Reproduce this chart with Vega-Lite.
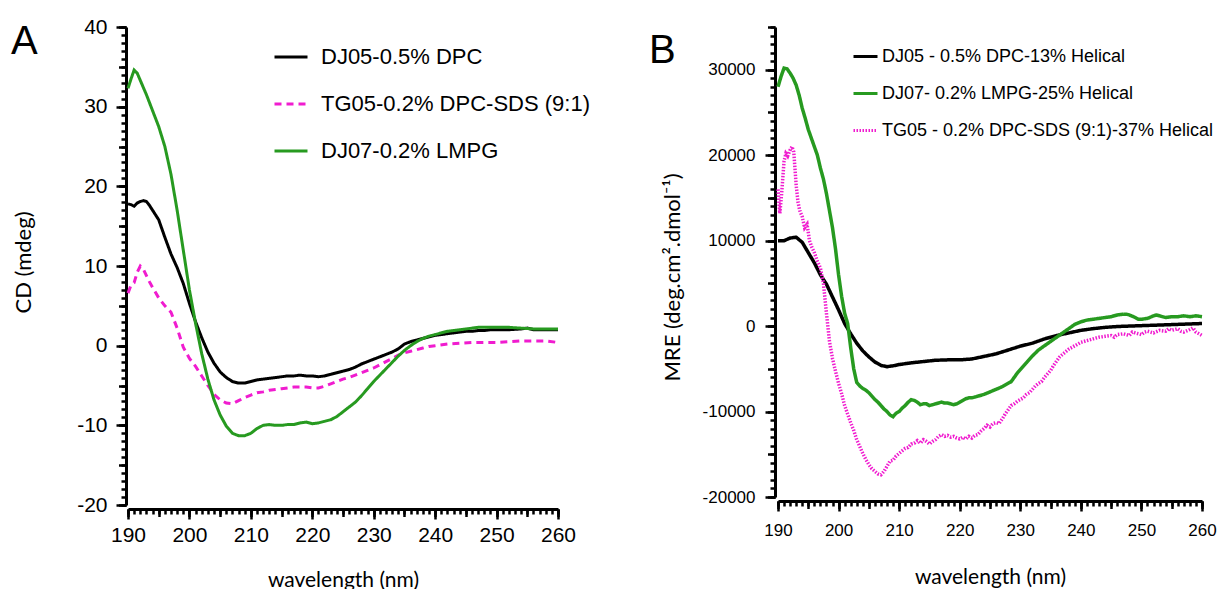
{
  "$schema": "https://vega.github.io/schema/vega-lite/v6.json",
  "background": "white",
  "padding": {"left": 11, "top": 16, "right": 0, "bottom": 0},
  "spacing": 220,
  "bounds": "flush",
  "config": {
    "view": {"stroke": null},
    "font": "Liberation Sans",
    "axis": {"grid": false, "domainColor": "black", "domainWidth": 3, "tickColor": "black", "tickWidth": 2.5, "labelColor": "black", "titleColor": "black", "titleFont": "Lato", "titleFontWeight": "normal", "labelFont": "Liberation Sans", "labelFlush": false, "labelOverlap": false},
    "legend": {"padding": 0, "titlePadding": 0}
  },
  "resolve": {"scale": {"color": "independent", "strokeDash": "independent"}, "legend": {"color": "independent", "strokeDash": "independent"}},
  "datasets": {
    "A": [
      {"s":"DJ05-0.5% DPC","x":190,"y":17.8},{"s":"DJ05-0.5% DPC","x":190.5,"y":17.7},{"s":"DJ05-0.5% DPC","x":191,"y":17.5},{"s":"DJ05-0.5% DPC","x":191.5,"y":17.9},{"s":"DJ05-0.5% DPC","x":192,"y":18.1},{"s":"DJ05-0.5% DPC","x":192.5,"y":18.2},{"s":"DJ05-0.5% DPC","x":193,"y":18.1},{"s":"DJ05-0.5% DPC","x":193.5,"y":17.6},{"s":"DJ05-0.5% DPC","x":194,"y":17.0},{"s":"DJ05-0.5% DPC","x":195,"y":15.8},{"s":"DJ05-0.5% DPC","x":196,"y":13.6},{"s":"DJ05-0.5% DPC","x":197,"y":11.5},{"s":"DJ05-0.5% DPC","x":198,"y":9.8},{"s":"DJ05-0.5% DPC","x":199,"y":7.8},{"s":"DJ05-0.5% DPC","x":200,"y":5.3},{"s":"DJ05-0.5% DPC","x":201,"y":3.0},{"s":"DJ05-0.5% DPC","x":202,"y":1.0},{"s":"DJ05-0.5% DPC","x":203,"y":-0.8},{"s":"DJ05-0.5% DPC","x":204,"y":-2.2},{"s":"DJ05-0.5% DPC","x":205,"y":-3.3},{"s":"DJ05-0.5% DPC","x":206,"y":-4.0},{"s":"DJ05-0.5% DPC","x":207,"y":-4.5},{"s":"DJ05-0.5% DPC","x":208,"y":-4.7},{"s":"DJ05-0.5% DPC","x":209,"y":-4.7},{"s":"DJ05-0.5% DPC","x":210,"y":-4.5},{"s":"DJ05-0.5% DPC","x":211,"y":-4.3},{"s":"DJ05-0.5% DPC","x":212,"y":-4.2},{"s":"DJ05-0.5% DPC","x":213,"y":-4.1},{"s":"DJ05-0.5% DPC","x":214,"y":-4.0},{"s":"DJ05-0.5% DPC","x":215,"y":-3.9},{"s":"DJ05-0.5% DPC","x":216,"y":-3.8},{"s":"DJ05-0.5% DPC","x":217,"y":-3.8},{"s":"DJ05-0.5% DPC","x":218,"y":-3.7},{"s":"DJ05-0.5% DPC","x":219,"y":-3.8},{"s":"DJ05-0.5% DPC","x":220,"y":-3.8},{"s":"DJ05-0.5% DPC","x":221,"y":-3.9},{"s":"DJ05-0.5% DPC","x":222,"y":-3.8},{"s":"DJ05-0.5% DPC","x":223,"y":-3.6},{"s":"DJ05-0.5% DPC","x":224,"y":-3.4},{"s":"DJ05-0.5% DPC","x":225,"y":-3.2},{"s":"DJ05-0.5% DPC","x":226,"y":-3.0},{"s":"DJ05-0.5% DPC","x":227,"y":-2.7},{"s":"DJ05-0.5% DPC","x":228,"y":-2.3},{"s":"DJ05-0.5% DPC","x":229,"y":-2.0},{"s":"DJ05-0.5% DPC","x":230,"y":-1.7},{"s":"DJ05-0.5% DPC","x":231,"y":-1.4},{"s":"DJ05-0.5% DPC","x":232,"y":-1.1},{"s":"DJ05-0.5% DPC","x":233,"y":-0.8},{"s":"DJ05-0.5% DPC","x":234,"y":-0.4},{"s":"DJ05-0.5% DPC","x":235,"y":0.2},{"s":"DJ05-0.5% DPC","x":236,"y":0.5},{"s":"DJ05-0.5% DPC","x":237,"y":0.7},{"s":"DJ05-0.5% DPC","x":238,"y":0.9},{"s":"DJ05-0.5% DPC","x":239,"y":1.1},{"s":"DJ05-0.5% DPC","x":240,"y":1.3},{"s":"DJ05-0.5% DPC","x":241,"y":1.4},{"s":"DJ05-0.5% DPC","x":242,"y":1.5},{"s":"DJ05-0.5% DPC","x":243,"y":1.6},{"s":"DJ05-0.5% DPC","x":244,"y":1.7},{"s":"DJ05-0.5% DPC","x":245,"y":1.8},{"s":"DJ05-0.5% DPC","x":246,"y":1.8},{"s":"DJ05-0.5% DPC","x":247,"y":1.9},{"s":"DJ05-0.5% DPC","x":248,"y":1.9},{"s":"DJ05-0.5% DPC","x":249,"y":2.0},{"s":"DJ05-0.5% DPC","x":250,"y":2.0},{"s":"DJ05-0.5% DPC","x":252,"y":2.0},{"s":"DJ05-0.5% DPC","x":254,"y":2.1},{"s":"DJ05-0.5% DPC","x":255,"y":2.2},{"s":"DJ05-0.5% DPC","x":256,"y":2.0},{"s":"DJ05-0.5% DPC","x":258,"y":2.0},{"s":"DJ05-0.5% DPC","x":260,"y":2.0},
      {"s":"DJ07-0.2% LMPG","x":190,"y":32.3},{"s":"DJ07-0.2% LMPG","x":190.5,"y":33.5},{"s":"DJ07-0.2% LMPG","x":191,"y":34.6},{"s":"DJ07-0.2% LMPG","x":191.5,"y":34.2},{"s":"DJ07-0.2% LMPG","x":192,"y":33.3},{"s":"DJ07-0.2% LMPG","x":193,"y":31.5},{"s":"DJ07-0.2% LMPG","x":194,"y":29.5},{"s":"DJ07-0.2% LMPG","x":195,"y":27.5},{"s":"DJ07-0.2% LMPG","x":196,"y":25.0},{"s":"DJ07-0.2% LMPG","x":197,"y":21.5},{"s":"DJ07-0.2% LMPG","x":198,"y":17.0},{"s":"DJ07-0.2% LMPG","x":199,"y":12.0},{"s":"DJ07-0.2% LMPG","x":200,"y":7.0},{"s":"DJ07-0.2% LMPG","x":201,"y":2.8},{"s":"DJ07-0.2% LMPG","x":202,"y":-1.0},{"s":"DJ07-0.2% LMPG","x":203,"y":-4.2},{"s":"DJ07-0.2% LMPG","x":204,"y":-6.8},{"s":"DJ07-0.2% LMPG","x":205,"y":-8.7},{"s":"DJ07-0.2% LMPG","x":206,"y":-10.1},{"s":"DJ07-0.2% LMPG","x":207,"y":-11.0},{"s":"DJ07-0.2% LMPG","x":208,"y":-11.3},{"s":"DJ07-0.2% LMPG","x":209,"y":-11.3},{"s":"DJ07-0.2% LMPG","x":210,"y":-11.0},{"s":"DJ07-0.2% LMPG","x":211,"y":-10.4},{"s":"DJ07-0.2% LMPG","x":212,"y":-10.0},{"s":"DJ07-0.2% LMPG","x":213,"y":-9.9},{"s":"DJ07-0.2% LMPG","x":214,"y":-10.0},{"s":"DJ07-0.2% LMPG","x":215,"y":-10.0},{"s":"DJ07-0.2% LMPG","x":216,"y":-9.9},{"s":"DJ07-0.2% LMPG","x":217,"y":-9.9},{"s":"DJ07-0.2% LMPG","x":218,"y":-9.7},{"s":"DJ07-0.2% LMPG","x":219,"y":-9.6},{"s":"DJ07-0.2% LMPG","x":220,"y":-9.8},{"s":"DJ07-0.2% LMPG","x":221,"y":-9.7},{"s":"DJ07-0.2% LMPG","x":222,"y":-9.5},{"s":"DJ07-0.2% LMPG","x":223,"y":-9.3},{"s":"DJ07-0.2% LMPG","x":224,"y":-8.9},{"s":"DJ07-0.2% LMPG","x":225,"y":-8.3},{"s":"DJ07-0.2% LMPG","x":226,"y":-7.7},{"s":"DJ07-0.2% LMPG","x":227,"y":-7.1},{"s":"DJ07-0.2% LMPG","x":228,"y":-6.3},{"s":"DJ07-0.2% LMPG","x":229,"y":-5.4},{"s":"DJ07-0.2% LMPG","x":230,"y":-4.5},{"s":"DJ07-0.2% LMPG","x":231,"y":-3.7},{"s":"DJ07-0.2% LMPG","x":232,"y":-2.9},{"s":"DJ07-0.2% LMPG","x":233,"y":-2.1},{"s":"DJ07-0.2% LMPG","x":234,"y":-1.3},{"s":"DJ07-0.2% LMPG","x":235,"y":-0.6},{"s":"DJ07-0.2% LMPG","x":236,"y":0.0},{"s":"DJ07-0.2% LMPG","x":237,"y":0.5},{"s":"DJ07-0.2% LMPG","x":238,"y":0.9},{"s":"DJ07-0.2% LMPG","x":239,"y":1.2},{"s":"DJ07-0.2% LMPG","x":240,"y":1.4},{"s":"DJ07-0.2% LMPG","x":241,"y":1.6},{"s":"DJ07-0.2% LMPG","x":242,"y":1.8},{"s":"DJ07-0.2% LMPG","x":243,"y":1.9},{"s":"DJ07-0.2% LMPG","x":244,"y":2.0},{"s":"DJ07-0.2% LMPG","x":245,"y":2.1},{"s":"DJ07-0.2% LMPG","x":246,"y":2.2},{"s":"DJ07-0.2% LMPG","x":247,"y":2.3},{"s":"DJ07-0.2% LMPG","x":248,"y":2.3},{"s":"DJ07-0.2% LMPG","x":250,"y":2.3},{"s":"DJ07-0.2% LMPG","x":252,"y":2.3},{"s":"DJ07-0.2% LMPG","x":254,"y":2.2},{"s":"DJ07-0.2% LMPG","x":256,"y":2.1},{"s":"DJ07-0.2% LMPG","x":258,"y":2.1},{"s":"DJ07-0.2% LMPG","x":260,"y":2.1},
      {"s":"TG05-0.2% DPC-SDS (9:1)","x":190,"y":6.6},{"s":"TG05-0.2% DPC-SDS (9:1)","x":190.5,"y":7.6},{"s":"TG05-0.2% DPC-SDS (9:1)","x":191,"y":7.9},{"s":"TG05-0.2% DPC-SDS (9:1)","x":191.5,"y":9.2},{"s":"TG05-0.2% DPC-SDS (9:1)","x":192,"y":10.0},{"s":"TG05-0.2% DPC-SDS (9:1)","x":192.5,"y":9.6},{"s":"TG05-0.2% DPC-SDS (9:1)","x":193,"y":8.8},{"s":"TG05-0.2% DPC-SDS (9:1)","x":193.5,"y":8.0},{"s":"TG05-0.2% DPC-SDS (9:1)","x":194,"y":7.3},{"s":"TG05-0.2% DPC-SDS (9:1)","x":195,"y":6.0},{"s":"TG05-0.2% DPC-SDS (9:1)","x":196,"y":5.0},{"s":"TG05-0.2% DPC-SDS (9:1)","x":197,"y":4.2},{"s":"TG05-0.2% DPC-SDS (9:1)","x":198,"y":2.2},{"s":"TG05-0.2% DPC-SDS (9:1)","x":199,"y":-0.2},{"s":"TG05-0.2% DPC-SDS (9:1)","x":200,"y":-1.6},{"s":"TG05-0.2% DPC-SDS (9:1)","x":201,"y":-2.6},{"s":"TG05-0.2% DPC-SDS (9:1)","x":202,"y":-3.8},{"s":"TG05-0.2% DPC-SDS (9:1)","x":203,"y":-5.0},{"s":"TG05-0.2% DPC-SDS (9:1)","x":204,"y":-6.1},{"s":"TG05-0.2% DPC-SDS (9:1)","x":205,"y":-6.8},{"s":"TG05-0.2% DPC-SDS (9:1)","x":206,"y":-7.2},{"s":"TG05-0.2% DPC-SDS (9:1)","x":207,"y":-7.3},{"s":"TG05-0.2% DPC-SDS (9:1)","x":208,"y":-6.9},{"s":"TG05-0.2% DPC-SDS (9:1)","x":209,"y":-6.5},{"s":"TG05-0.2% DPC-SDS (9:1)","x":210,"y":-6.2},{"s":"TG05-0.2% DPC-SDS (9:1)","x":211,"y":-5.9},{"s":"TG05-0.2% DPC-SDS (9:1)","x":212,"y":-5.8},{"s":"TG05-0.2% DPC-SDS (9:1)","x":213,"y":-5.6},{"s":"TG05-0.2% DPC-SDS (9:1)","x":214,"y":-5.5},{"s":"TG05-0.2% DPC-SDS (9:1)","x":215,"y":-5.4},{"s":"TG05-0.2% DPC-SDS (9:1)","x":216,"y":-5.3},{"s":"TG05-0.2% DPC-SDS (9:1)","x":217,"y":-5.2},{"s":"TG05-0.2% DPC-SDS (9:1)","x":218,"y":-5.2},{"s":"TG05-0.2% DPC-SDS (9:1)","x":219,"y":-5.2},{"s":"TG05-0.2% DPC-SDS (9:1)","x":220,"y":-5.3},{"s":"TG05-0.2% DPC-SDS (9:1)","x":221,"y":-5.3},{"s":"TG05-0.2% DPC-SDS (9:1)","x":222,"y":-5.1},{"s":"TG05-0.2% DPC-SDS (9:1)","x":223,"y":-4.8},{"s":"TG05-0.2% DPC-SDS (9:1)","x":224,"y":-4.5},{"s":"TG05-0.2% DPC-SDS (9:1)","x":225,"y":-4.2},{"s":"TG05-0.2% DPC-SDS (9:1)","x":226,"y":-4.0},{"s":"TG05-0.2% DPC-SDS (9:1)","x":227,"y":-3.7},{"s":"TG05-0.2% DPC-SDS (9:1)","x":228,"y":-3.4},{"s":"TG05-0.2% DPC-SDS (9:1)","x":229,"y":-3.1},{"s":"TG05-0.2% DPC-SDS (9:1)","x":230,"y":-2.8},{"s":"TG05-0.2% DPC-SDS (9:1)","x":231,"y":-2.4},{"s":"TG05-0.2% DPC-SDS (9:1)","x":232,"y":-2.0},{"s":"TG05-0.2% DPC-SDS (9:1)","x":233,"y":-1.6},{"s":"TG05-0.2% DPC-SDS (9:1)","x":234,"y":-1.2},{"s":"TG05-0.2% DPC-SDS (9:1)","x":235,"y":-0.9},{"s":"TG05-0.2% DPC-SDS (9:1)","x":236,"y":-0.7},{"s":"TG05-0.2% DPC-SDS (9:1)","x":237,"y":-0.5},{"s":"TG05-0.2% DPC-SDS (9:1)","x":238,"y":-0.3},{"s":"TG05-0.2% DPC-SDS (9:1)","x":239,"y":-0.1},{"s":"TG05-0.2% DPC-SDS (9:1)","x":240,"y":0.0},{"s":"TG05-0.2% DPC-SDS (9:1)","x":242,"y":0.2},{"s":"TG05-0.2% DPC-SDS (9:1)","x":244,"y":0.3},{"s":"TG05-0.2% DPC-SDS (9:1)","x":246,"y":0.4},{"s":"TG05-0.2% DPC-SDS (9:1)","x":248,"y":0.4},{"s":"TG05-0.2% DPC-SDS (9:1)","x":250,"y":0.4},{"s":"TG05-0.2% DPC-SDS (9:1)","x":252,"y":0.5},{"s":"TG05-0.2% DPC-SDS (9:1)","x":254,"y":0.6},{"s":"TG05-0.2% DPC-SDS (9:1)","x":256,"y":0.6},{"s":"TG05-0.2% DPC-SDS (9:1)","x":258,"y":0.6},{"s":"TG05-0.2% DPC-SDS (9:1)","x":260,"y":0.4}
    ],
    "B": [
      {"s":"DJ05 - 0.5% DPC-13% Helical","x":190,"y":10000},{"s":"DJ05 - 0.5% DPC-13% Helical","x":191,"y":10000},{"s":"DJ05 - 0.5% DPC-13% Helical","x":192,"y":10300},{"s":"DJ05 - 0.5% DPC-13% Helical","x":193,"y":10400},{"s":"DJ05 - 0.5% DPC-13% Helical","x":194,"y":9800},{"s":"DJ05 - 0.5% DPC-13% Helical","x":195,"y":8600},{"s":"DJ05 - 0.5% DPC-13% Helical","x":196,"y":7400},{"s":"DJ05 - 0.5% DPC-13% Helical","x":197,"y":6000},{"s":"DJ05 - 0.5% DPC-13% Helical","x":198,"y":4900},{"s":"DJ05 - 0.5% DPC-13% Helical","x":199,"y":3400},{"s":"DJ05 - 0.5% DPC-13% Helical","x":200,"y":1900},{"s":"DJ05 - 0.5% DPC-13% Helical","x":201,"y":300},{"s":"DJ05 - 0.5% DPC-13% Helical","x":202,"y":-900},{"s":"DJ05 - 0.5% DPC-13% Helical","x":203,"y":-2000},{"s":"DJ05 - 0.5% DPC-13% Helical","x":204,"y":-2900},{"s":"DJ05 - 0.5% DPC-13% Helical","x":205,"y":-3600},{"s":"DJ05 - 0.5% DPC-13% Helical","x":206,"y":-4200},{"s":"DJ05 - 0.5% DPC-13% Helical","x":207,"y":-4600},{"s":"DJ05 - 0.5% DPC-13% Helical","x":208,"y":-4750},{"s":"DJ05 - 0.5% DPC-13% Helical","x":209,"y":-4650},{"s":"DJ05 - 0.5% DPC-13% Helical","x":210,"y":-4500},{"s":"DJ05 - 0.5% DPC-13% Helical","x":212,"y":-4300},{"s":"DJ05 - 0.5% DPC-13% Helical","x":214,"y":-4150},{"s":"DJ05 - 0.5% DPC-13% Helical","x":216,"y":-4000},{"s":"DJ05 - 0.5% DPC-13% Helical","x":218,"y":-3950},{"s":"DJ05 - 0.5% DPC-13% Helical","x":220,"y":-3950},{"s":"DJ05 - 0.5% DPC-13% Helical","x":222,"y":-3850},{"s":"DJ05 - 0.5% DPC-13% Helical","x":224,"y":-3550},{"s":"DJ05 - 0.5% DPC-13% Helical","x":226,"y":-3250},{"s":"DJ05 - 0.5% DPC-13% Helical","x":228,"y":-2800},{"s":"DJ05 - 0.5% DPC-13% Helical","x":230,"y":-2350},{"s":"DJ05 - 0.5% DPC-13% Helical","x":232,"y":-2000},{"s":"DJ05 - 0.5% DPC-13% Helical","x":234,"y":-1500},{"s":"DJ05 - 0.5% DPC-13% Helical","x":236,"y":-1100},{"s":"DJ05 - 0.5% DPC-13% Helical","x":238,"y":-800},{"s":"DJ05 - 0.5% DPC-13% Helical","x":240,"y":-500},{"s":"DJ05 - 0.5% DPC-13% Helical","x":242,"y":-300},{"s":"DJ05 - 0.5% DPC-13% Helical","x":244,"y":-150},{"s":"DJ05 - 0.5% DPC-13% Helical","x":246,"y":-50},{"s":"DJ05 - 0.5% DPC-13% Helical","x":248,"y":0},{"s":"DJ05 - 0.5% DPC-13% Helical","x":250,"y":50},{"s":"DJ05 - 0.5% DPC-13% Helical","x":252,"y":100},{"s":"DJ05 - 0.5% DPC-13% Helical","x":254,"y":150},{"s":"DJ05 - 0.5% DPC-13% Helical","x":256,"y":200},{"s":"DJ05 - 0.5% DPC-13% Helical","x":258,"y":250},{"s":"DJ05 - 0.5% DPC-13% Helical","x":260,"y":300},
      {"s":"DJ07- 0.2% LMPG-25% Helical","x":190,"y":28000},{"s":"DJ07- 0.2% LMPG-25% Helical","x":190.5,"y":29200},{"s":"DJ07- 0.2% LMPG-25% Helical","x":191,"y":30200},{"s":"DJ07- 0.2% LMPG-25% Helical","x":191.5,"y":30100},{"s":"DJ07- 0.2% LMPG-25% Helical","x":192,"y":29600},{"s":"DJ07- 0.2% LMPG-25% Helical","x":192.5,"y":29000},{"s":"DJ07- 0.2% LMPG-25% Helical","x":193,"y":28200},{"s":"DJ07- 0.2% LMPG-25% Helical","x":193.5,"y":27000},{"s":"DJ07- 0.2% LMPG-25% Helical","x":194,"y":25500},{"s":"DJ07- 0.2% LMPG-25% Helical","x":194.5,"y":24300},{"s":"DJ07- 0.2% LMPG-25% Helical","x":195,"y":23000},{"s":"DJ07- 0.2% LMPG-25% Helical","x":195.5,"y":22000},{"s":"DJ07- 0.2% LMPG-25% Helical","x":196,"y":21000},{"s":"DJ07- 0.2% LMPG-25% Helical","x":196.5,"y":20000},{"s":"DJ07- 0.2% LMPG-25% Helical","x":197,"y":18500},{"s":"DJ07- 0.2% LMPG-25% Helical","x":197.5,"y":17200},{"s":"DJ07- 0.2% LMPG-25% Helical","x":198,"y":15500},{"s":"DJ07- 0.2% LMPG-25% Helical","x":198.5,"y":13500},{"s":"DJ07- 0.2% LMPG-25% Helical","x":199,"y":11500},{"s":"DJ07- 0.2% LMPG-25% Helical","x":199.5,"y":9000},{"s":"DJ07- 0.2% LMPG-25% Helical","x":200,"y":6000},{"s":"DJ07- 0.2% LMPG-25% Helical","x":200.5,"y":3500},{"s":"DJ07- 0.2% LMPG-25% Helical","x":201,"y":1500},{"s":"DJ07- 0.2% LMPG-25% Helical","x":201.5,"y":300},{"s":"DJ07- 0.2% LMPG-25% Helical","x":202,"y":-2500},{"s":"DJ07- 0.2% LMPG-25% Helical","x":202.5,"y":-5000},{"s":"DJ07- 0.2% LMPG-25% Helical","x":203,"y":-6600},{"s":"DJ07- 0.2% LMPG-25% Helical","x":203.5,"y":-7000},{"s":"DJ07- 0.2% LMPG-25% Helical","x":204,"y":-7300},{"s":"DJ07- 0.2% LMPG-25% Helical","x":204.5,"y":-7500},{"s":"DJ07- 0.2% LMPG-25% Helical","x":205,"y":-7800},{"s":"DJ07- 0.2% LMPG-25% Helical","x":205.5,"y":-8200},{"s":"DJ07- 0.2% LMPG-25% Helical","x":206,"y":-8600},{"s":"DJ07- 0.2% LMPG-25% Helical","x":206.5,"y":-8900},{"s":"DJ07- 0.2% LMPG-25% Helical","x":207,"y":-9300},{"s":"DJ07- 0.2% LMPG-25% Helical","x":207.5,"y":-9700},{"s":"DJ07- 0.2% LMPG-25% Helical","x":208,"y":-10000},{"s":"DJ07- 0.2% LMPG-25% Helical","x":208.5,"y":-10400},{"s":"DJ07- 0.2% LMPG-25% Helical","x":209,"y":-10600},{"s":"DJ07- 0.2% LMPG-25% Helical","x":209.5,"y":-10200},{"s":"DJ07- 0.2% LMPG-25% Helical","x":210,"y":-10000},{"s":"DJ07- 0.2% LMPG-25% Helical","x":210.5,"y":-9600},{"s":"DJ07- 0.2% LMPG-25% Helical","x":211,"y":-9300},{"s":"DJ07- 0.2% LMPG-25% Helical","x":211.5,"y":-8900},{"s":"DJ07- 0.2% LMPG-25% Helical","x":212,"y":-8600},{"s":"DJ07- 0.2% LMPG-25% Helical","x":212.5,"y":-8700},{"s":"DJ07- 0.2% LMPG-25% Helical","x":213,"y":-8900},{"s":"DJ07- 0.2% LMPG-25% Helical","x":213.5,"y":-9200},{"s":"DJ07- 0.2% LMPG-25% Helical","x":214,"y":-9100},{"s":"DJ07- 0.2% LMPG-25% Helical","x":214.5,"y":-9100},{"s":"DJ07- 0.2% LMPG-25% Helical","x":215,"y":-9300},{"s":"DJ07- 0.2% LMPG-25% Helical","x":215.5,"y":-9200},{"s":"DJ07- 0.2% LMPG-25% Helical","x":216,"y":-9100},{"s":"DJ07- 0.2% LMPG-25% Helical","x":216.5,"y":-9000},{"s":"DJ07- 0.2% LMPG-25% Helical","x":217,"y":-8900},{"s":"DJ07- 0.2% LMPG-25% Helical","x":217.5,"y":-9000},{"s":"DJ07- 0.2% LMPG-25% Helical","x":218,"y":-9000},{"s":"DJ07- 0.2% LMPG-25% Helical","x":218.5,"y":-9100},{"s":"DJ07- 0.2% LMPG-25% Helical","x":219,"y":-9200},{"s":"DJ07- 0.2% LMPG-25% Helical","x":219.5,"y":-9100},{"s":"DJ07- 0.2% LMPG-25% Helical","x":220,"y":-8900},{"s":"DJ07- 0.2% LMPG-25% Helical","x":220.5,"y":-8700},{"s":"DJ07- 0.2% LMPG-25% Helical","x":221,"y":-8500},{"s":"DJ07- 0.2% LMPG-25% Helical","x":221.5,"y":-8400},{"s":"DJ07- 0.2% LMPG-25% Helical","x":222,"y":-8400},{"s":"DJ07- 0.2% LMPG-25% Helical","x":222.5,"y":-8300},{"s":"DJ07- 0.2% LMPG-25% Helical","x":223,"y":-8200},{"s":"DJ07- 0.2% LMPG-25% Helical","x":224,"y":-8000},{"s":"DJ07- 0.2% LMPG-25% Helical","x":225,"y":-7700},{"s":"DJ07- 0.2% LMPG-25% Helical","x":226,"y":-7400},{"s":"DJ07- 0.2% LMPG-25% Helical","x":227,"y":-7100},{"s":"DJ07- 0.2% LMPG-25% Helical","x":228,"y":-6700},{"s":"DJ07- 0.2% LMPG-25% Helical","x":228.5,"y":-6500},{"s":"DJ07- 0.2% LMPG-25% Helical","x":229,"y":-6000},{"s":"DJ07- 0.2% LMPG-25% Helical","x":229.5,"y":-5500},{"s":"DJ07- 0.2% LMPG-25% Helical","x":230,"y":-5100},{"s":"DJ07- 0.2% LMPG-25% Helical","x":231,"y":-4300},{"s":"DJ07- 0.2% LMPG-25% Helical","x":232,"y":-3500},{"s":"DJ07- 0.2% LMPG-25% Helical","x":233,"y":-2800},{"s":"DJ07- 0.2% LMPG-25% Helical","x":234,"y":-2300},{"s":"DJ07- 0.2% LMPG-25% Helical","x":235,"y":-1800},{"s":"DJ07- 0.2% LMPG-25% Helical","x":236,"y":-1300},{"s":"DJ07- 0.2% LMPG-25% Helical","x":237,"y":-800},{"s":"DJ07- 0.2% LMPG-25% Helical","x":238,"y":-300},{"s":"DJ07- 0.2% LMPG-25% Helical","x":239,"y":200},{"s":"DJ07- 0.2% LMPG-25% Helical","x":240,"y":500},{"s":"DJ07- 0.2% LMPG-25% Helical","x":241,"y":700},{"s":"DJ07- 0.2% LMPG-25% Helical","x":242,"y":800},{"s":"DJ07- 0.2% LMPG-25% Helical","x":243,"y":900},{"s":"DJ07- 0.2% LMPG-25% Helical","x":244,"y":1000},{"s":"DJ07- 0.2% LMPG-25% Helical","x":245,"y":1100},{"s":"DJ07- 0.2% LMPG-25% Helical","x":246,"y":1300},{"s":"DJ07- 0.2% LMPG-25% Helical","x":247,"y":1400},{"s":"DJ07- 0.2% LMPG-25% Helical","x":247.5,"y":1400},{"s":"DJ07- 0.2% LMPG-25% Helical","x":248,"y":1300},{"s":"DJ07- 0.2% LMPG-25% Helical","x":249,"y":1000},{"s":"DJ07- 0.2% LMPG-25% Helical","x":249.5,"y":800},{"s":"DJ07- 0.2% LMPG-25% Helical","x":250,"y":800},{"s":"DJ07- 0.2% LMPG-25% Helical","x":251,"y":900},{"s":"DJ07- 0.2% LMPG-25% Helical","x":252,"y":1200},{"s":"DJ07- 0.2% LMPG-25% Helical","x":252.5,"y":1300},{"s":"DJ07- 0.2% LMPG-25% Helical","x":253,"y":1200},{"s":"DJ07- 0.2% LMPG-25% Helical","x":254,"y":1000},{"s":"DJ07- 0.2% LMPG-25% Helical","x":255,"y":1100},{"s":"DJ07- 0.2% LMPG-25% Helical","x":256,"y":1100},{"s":"DJ07- 0.2% LMPG-25% Helical","x":257,"y":1200},{"s":"DJ07- 0.2% LMPG-25% Helical","x":258,"y":1100},{"s":"DJ07- 0.2% LMPG-25% Helical","x":259,"y":1200},{"s":"DJ07- 0.2% LMPG-25% Helical","x":260,"y":1100},
      {"s":"TG05 - 0.2% DPC-SDS (9:1)-37% Helical","x":190,"y":16000},{"s":"TG05 - 0.2% DPC-SDS (9:1)-37% Helical","x":190.3,"y":13200},{"s":"TG05 - 0.2% DPC-SDS (9:1)-37% Helical","x":190.6,"y":15500},{"s":"TG05 - 0.2% DPC-SDS (9:1)-37% Helical","x":191,"y":19300},{"s":"TG05 - 0.2% DPC-SDS (9:1)-37% Helical","x":191.3,"y":20200},{"s":"TG05 - 0.2% DPC-SDS (9:1)-37% Helical","x":191.6,"y":19900},{"s":"TG05 - 0.2% DPC-SDS (9:1)-37% Helical","x":192,"y":20600},{"s":"TG05 - 0.2% DPC-SDS (9:1)-37% Helical","x":192.3,"y":21000},{"s":"TG05 - 0.2% DPC-SDS (9:1)-37% Helical","x":192.6,"y":20400},{"s":"TG05 - 0.2% DPC-SDS (9:1)-37% Helical","x":193,"y":16500},{"s":"TG05 - 0.2% DPC-SDS (9:1)-37% Helical","x":193.3,"y":14500},{"s":"TG05 - 0.2% DPC-SDS (9:1)-37% Helical","x":193.6,"y":13500},{"s":"TG05 - 0.2% DPC-SDS (9:1)-37% Helical","x":194,"y":12800},{"s":"TG05 - 0.2% DPC-SDS (9:1)-37% Helical","x":194.4,"y":11500},{"s":"TG05 - 0.2% DPC-SDS (9:1)-37% Helical","x":194.8,"y":11900},{"s":"TG05 - 0.2% DPC-SDS (9:1)-37% Helical","x":195.2,"y":10000},{"s":"TG05 - 0.2% DPC-SDS (9:1)-37% Helical","x":195.6,"y":9200},{"s":"TG05 - 0.2% DPC-SDS (9:1)-37% Helical","x":196,"y":8600},{"s":"TG05 - 0.2% DPC-SDS (9:1)-37% Helical","x":196.5,"y":7600},{"s":"TG05 - 0.2% DPC-SDS (9:1)-37% Helical","x":197,"y":6800},{"s":"TG05 - 0.2% DPC-SDS (9:1)-37% Helical","x":197.5,"y":5000},{"s":"TG05 - 0.2% DPC-SDS (9:1)-37% Helical","x":198,"y":1500},{"s":"TG05 - 0.2% DPC-SDS (9:1)-37% Helical","x":198.5,"y":-1800},{"s":"TG05 - 0.2% DPC-SDS (9:1)-37% Helical","x":199,"y":-3800},{"s":"TG05 - 0.2% DPC-SDS (9:1)-37% Helical","x":199.5,"y":-5300},{"s":"TG05 - 0.2% DPC-SDS (9:1)-37% Helical","x":200,"y":-6700},{"s":"TG05 - 0.2% DPC-SDS (9:1)-37% Helical","x":200.5,"y":-7900},{"s":"TG05 - 0.2% DPC-SDS (9:1)-37% Helical","x":201,"y":-9300},{"s":"TG05 - 0.2% DPC-SDS (9:1)-37% Helical","x":201.5,"y":-10300},{"s":"TG05 - 0.2% DPC-SDS (9:1)-37% Helical","x":202,"y":-11300},{"s":"TG05 - 0.2% DPC-SDS (9:1)-37% Helical","x":202.5,"y":-12200},{"s":"TG05 - 0.2% DPC-SDS (9:1)-37% Helical","x":203,"y":-13300},{"s":"TG05 - 0.2% DPC-SDS (9:1)-37% Helical","x":203.5,"y":-14100},{"s":"TG05 - 0.2% DPC-SDS (9:1)-37% Helical","x":204,"y":-14900},{"s":"TG05 - 0.2% DPC-SDS (9:1)-37% Helical","x":204.5,"y":-15600},{"s":"TG05 - 0.2% DPC-SDS (9:1)-37% Helical","x":205,"y":-16200},{"s":"TG05 - 0.2% DPC-SDS (9:1)-37% Helical","x":205.5,"y":-16700},{"s":"TG05 - 0.2% DPC-SDS (9:1)-37% Helical","x":206,"y":-17000},{"s":"TG05 - 0.2% DPC-SDS (9:1)-37% Helical","x":206.5,"y":-17300},{"s":"TG05 - 0.2% DPC-SDS (9:1)-37% Helical","x":207,"y":-17400},{"s":"TG05 - 0.2% DPC-SDS (9:1)-37% Helical","x":207.5,"y":-17000},{"s":"TG05 - 0.2% DPC-SDS (9:1)-37% Helical","x":208,"y":-16400},{"s":"TG05 - 0.2% DPC-SDS (9:1)-37% Helical","x":208.5,"y":-15800},{"s":"TG05 - 0.2% DPC-SDS (9:1)-37% Helical","x":209,"y":-15700},{"s":"TG05 - 0.2% DPC-SDS (9:1)-37% Helical","x":209.5,"y":-15200},{"s":"TG05 - 0.2% DPC-SDS (9:1)-37% Helical","x":210,"y":-14900},{"s":"TG05 - 0.2% DPC-SDS (9:1)-37% Helical","x":210.5,"y":-14600},{"s":"TG05 - 0.2% DPC-SDS (9:1)-37% Helical","x":211,"y":-14300},{"s":"TG05 - 0.2% DPC-SDS (9:1)-37% Helical","x":211.5,"y":-14200},{"s":"TG05 - 0.2% DPC-SDS (9:1)-37% Helical","x":212,"y":-13800},{"s":"TG05 - 0.2% DPC-SDS (9:1)-37% Helical","x":212.5,"y":-13700},{"s":"TG05 - 0.2% DPC-SDS (9:1)-37% Helical","x":213,"y":-13400},{"s":"TG05 - 0.2% DPC-SDS (9:1)-37% Helical","x":213.5,"y":-13700},{"s":"TG05 - 0.2% DPC-SDS (9:1)-37% Helical","x":214,"y":-13300},{"s":"TG05 - 0.2% DPC-SDS (9:1)-37% Helical","x":214.5,"y":-13500},{"s":"TG05 - 0.2% DPC-SDS (9:1)-37% Helical","x":215,"y":-13800},{"s":"TG05 - 0.2% DPC-SDS (9:1)-37% Helical","x":215.5,"y":-13500},{"s":"TG05 - 0.2% DPC-SDS (9:1)-37% Helical","x":216,"y":-13300},{"s":"TG05 - 0.2% DPC-SDS (9:1)-37% Helical","x":216.5,"y":-12900},{"s":"TG05 - 0.2% DPC-SDS (9:1)-37% Helical","x":217,"y":-12700},{"s":"TG05 - 0.2% DPC-SDS (9:1)-37% Helical","x":217.5,"y":-12900},{"s":"TG05 - 0.2% DPC-SDS (9:1)-37% Helical","x":218,"y":-12800},{"s":"TG05 - 0.2% DPC-SDS (9:1)-37% Helical","x":218.5,"y":-13000},{"s":"TG05 - 0.2% DPC-SDS (9:1)-37% Helical","x":219,"y":-12900},{"s":"TG05 - 0.2% DPC-SDS (9:1)-37% Helical","x":219.5,"y":-13100},{"s":"TG05 - 0.2% DPC-SDS (9:1)-37% Helical","x":220,"y":-13200},{"s":"TG05 - 0.2% DPC-SDS (9:1)-37% Helical","x":220.5,"y":-13000},{"s":"TG05 - 0.2% DPC-SDS (9:1)-37% Helical","x":221,"y":-13200},{"s":"TG05 - 0.2% DPC-SDS (9:1)-37% Helical","x":221.5,"y":-12900},{"s":"TG05 - 0.2% DPC-SDS (9:1)-37% Helical","x":222,"y":-13100},{"s":"TG05 - 0.2% DPC-SDS (9:1)-37% Helical","x":222.5,"y":-12800},{"s":"TG05 - 0.2% DPC-SDS (9:1)-37% Helical","x":223,"y":-12700},{"s":"TG05 - 0.2% DPC-SDS (9:1)-37% Helical","x":223.5,"y":-12300},{"s":"TG05 - 0.2% DPC-SDS (9:1)-37% Helical","x":224,"y":-12000},{"s":"TG05 - 0.2% DPC-SDS (9:1)-37% Helical","x":224.5,"y":-11600},{"s":"TG05 - 0.2% DPC-SDS (9:1)-37% Helical","x":225,"y":-11800},{"s":"TG05 - 0.2% DPC-SDS (9:1)-37% Helical","x":225.5,"y":-11400},{"s":"TG05 - 0.2% DPC-SDS (9:1)-37% Helical","x":226,"y":-11300},{"s":"TG05 - 0.2% DPC-SDS (9:1)-37% Helical","x":226.5,"y":-11400},{"s":"TG05 - 0.2% DPC-SDS (9:1)-37% Helical","x":227,"y":-10900},{"s":"TG05 - 0.2% DPC-SDS (9:1)-37% Helical","x":227.5,"y":-10300},{"s":"TG05 - 0.2% DPC-SDS (9:1)-37% Helical","x":228,"y":-9800},{"s":"TG05 - 0.2% DPC-SDS (9:1)-37% Helical","x":228.5,"y":-9300},{"s":"TG05 - 0.2% DPC-SDS (9:1)-37% Helical","x":229,"y":-9100},{"s":"TG05 - 0.2% DPC-SDS (9:1)-37% Helical","x":229.5,"y":-8800},{"s":"TG05 - 0.2% DPC-SDS (9:1)-37% Helical","x":230,"y":-8600},{"s":"TG05 - 0.2% DPC-SDS (9:1)-37% Helical","x":230.5,"y":-8400},{"s":"TG05 - 0.2% DPC-SDS (9:1)-37% Helical","x":231,"y":-8000},{"s":"TG05 - 0.2% DPC-SDS (9:1)-37% Helical","x":231.5,"y":-7800},{"s":"TG05 - 0.2% DPC-SDS (9:1)-37% Helical","x":232,"y":-7400},{"s":"TG05 - 0.2% DPC-SDS (9:1)-37% Helical","x":232.5,"y":-7000},{"s":"TG05 - 0.2% DPC-SDS (9:1)-37% Helical","x":233,"y":-6700},{"s":"TG05 - 0.2% DPC-SDS (9:1)-37% Helical","x":233.5,"y":-6500},{"s":"TG05 - 0.2% DPC-SDS (9:1)-37% Helical","x":234,"y":-6000},{"s":"TG05 - 0.2% DPC-SDS (9:1)-37% Helical","x":234.5,"y":-5600},{"s":"TG05 - 0.2% DPC-SDS (9:1)-37% Helical","x":235,"y":-5200},{"s":"TG05 - 0.2% DPC-SDS (9:1)-37% Helical","x":235.5,"y":-4600},{"s":"TG05 - 0.2% DPC-SDS (9:1)-37% Helical","x":236,"y":-4100},{"s":"TG05 - 0.2% DPC-SDS (9:1)-37% Helical","x":236.5,"y":-3600},{"s":"TG05 - 0.2% DPC-SDS (9:1)-37% Helical","x":237,"y":-3300},{"s":"TG05 - 0.2% DPC-SDS (9:1)-37% Helical","x":237.5,"y":-3000},{"s":"TG05 - 0.2% DPC-SDS (9:1)-37% Helical","x":238,"y":-2700},{"s":"TG05 - 0.2% DPC-SDS (9:1)-37% Helical","x":238.5,"y":-2500},{"s":"TG05 - 0.2% DPC-SDS (9:1)-37% Helical","x":239,"y":-2300},{"s":"TG05 - 0.2% DPC-SDS (9:1)-37% Helical","x":239.5,"y":-2100},{"s":"TG05 - 0.2% DPC-SDS (9:1)-37% Helical","x":240,"y":-1900},{"s":"TG05 - 0.2% DPC-SDS (9:1)-37% Helical","x":241,"y":-1700},{"s":"TG05 - 0.2% DPC-SDS (9:1)-37% Helical","x":242,"y":-1500},{"s":"TG05 - 0.2% DPC-SDS (9:1)-37% Helical","x":243,"y":-1300},{"s":"TG05 - 0.2% DPC-SDS (9:1)-37% Helical","x":244,"y":-1200},{"s":"TG05 - 0.2% DPC-SDS (9:1)-37% Helical","x":245,"y":-1100},{"s":"TG05 - 0.2% DPC-SDS (9:1)-37% Helical","x":245.5,"y":-1300},{"s":"TG05 - 0.2% DPC-SDS (9:1)-37% Helical","x":246,"y":-1000},{"s":"TG05 - 0.2% DPC-SDS (9:1)-37% Helical","x":247,"y":-900},{"s":"TG05 - 0.2% DPC-SDS (9:1)-37% Helical","x":248,"y":-1100},{"s":"TG05 - 0.2% DPC-SDS (9:1)-37% Helical","x":248.5,"y":-700},{"s":"TG05 - 0.2% DPC-SDS (9:1)-37% Helical","x":249,"y":-800},{"s":"TG05 - 0.2% DPC-SDS (9:1)-37% Helical","x":250,"y":-1000},{"s":"TG05 - 0.2% DPC-SDS (9:1)-37% Helical","x":250.5,"y":-700},{"s":"TG05 - 0.2% DPC-SDS (9:1)-37% Helical","x":251,"y":-600},{"s":"TG05 - 0.2% DPC-SDS (9:1)-37% Helical","x":252,"y":-800},{"s":"TG05 - 0.2% DPC-SDS (9:1)-37% Helical","x":253,"y":-500},{"s":"TG05 - 0.2% DPC-SDS (9:1)-37% Helical","x":254,"y":-600},{"s":"TG05 - 0.2% DPC-SDS (9:1)-37% Helical","x":254.5,"y":-300},{"s":"TG05 - 0.2% DPC-SDS (9:1)-37% Helical","x":255,"y":-500},{"s":"TG05 - 0.2% DPC-SDS (9:1)-37% Helical","x":256,"y":-300},{"s":"TG05 - 0.2% DPC-SDS (9:1)-37% Helical","x":256.5,"y":-600},{"s":"TG05 - 0.2% DPC-SDS (9:1)-37% Helical","x":257,"y":-700},{"s":"TG05 - 0.2% DPC-SDS (9:1)-37% Helical","x":258,"y":-400},{"s":"TG05 - 0.2% DPC-SDS (9:1)-37% Helical","x":258.5,"y":-200},{"s":"TG05 - 0.2% DPC-SDS (9:1)-37% Helical","x":259,"y":-700},{"s":"TG05 - 0.2% DPC-SDS (9:1)-37% Helical","x":260,"y":-1100}
    ]
  },
  "hconcat": [
    {
      "width": 430,
      "height": 478,
      "title": {"text": "A", "anchor": "start", "frame": "group", "fontSize": 40, "font": "Liberation Sans", "fontWeight": "normal", "color": "black", "offset": -78, "baseline": "alphabetic", "dx": -117},
      "data": {"name": "A"},
      "resolve": {"axis": {"x": "independent", "y": "independent"}},
      "layer": [
        {
          "transform": [{"filter": "datum.s === 'DJ05-0.5% DPC'"}],
          "mark": {"type": "line", "strokeWidth": 3},
          "encoding": {
            "x": {"field": "x", "type": "quantitative", "scale": {"domain": [190, 260], "nice": false, "zero": false},
              "axis": {"orient": "bottom", "title": "wavelength (nm)", "titleFontSize": 21, "titlePadding": 24, "labelFontSize": 21, "labelPadding": 5, "offset": 4, "tickSize": 10, "tickCount": 7, "labelExpr": "toString(datum.value)"}},
            "y": {"field": "y", "type": "quantitative", "scale": {"domain": [-20, 40], "nice": false, "zero": false},
              "axis": {"orient": "left", "title": "CD (mdeg)", "titleFontSize": 22, "titlePadding": 41, "titleY": 235, "labelFontSize": 21, "labelPadding": 9, "offset": 2, "tickSize": 10, "tickCount": 6, "labelExpr": "toString(datum.value)"}},
            "color": {"field": "s", "type": "nominal",
              "scale": {"domain": ["DJ05-0.5% DPC", "TG05-0.2% DPC-SDS (9:1)", "DJ07-0.2% LMPG"], "range": ["#000000", "#f01ccf", "#279a20"]},
              "legend": {"title": null, "orient": "none", "legendX": 145, "legendY": 12, "symbolType": "stroke", "symbolSize": 1089, "symbolStrokeWidth": 3, "labelFont": "Liberation Sans", "labelFontSize": 22, "labelColor": "black", "labelOffset": 12, "rowPadding": 18, "labelLimit": 0}},
            "strokeDash": {"field": "s", "type": "nominal",
              "scale": {"domain": ["DJ05-0.5% DPC", "TG05-0.2% DPC-SDS (9:1)", "DJ07-0.2% LMPG"], "range": [[1, 0], [7, 5], [1, 0]]},
              "legend": {"title": null, "orient": "none", "legendX": 145, "legendY": 12, "symbolType": "stroke", "symbolSize": 1089, "symbolStrokeWidth": 3, "labelFont": "Liberation Sans", "labelFontSize": 22, "labelColor": "black", "labelOffset": 12, "rowPadding": 18, "labelLimit": 0}}
          }
        },
        {
          "transform": [{"filter": "datum.s === 'TG05-0.2% DPC-SDS (9:1)'"}],
          "mark": {"type": "line", "strokeWidth": 3},
          "encoding": {
            "x": {"field": "x", "type": "quantitative", "scale": {"domain": [190, 260], "nice": false, "zero": false},
              "axis": {"orient": "bottom", "title": null, "labels": false, "domain": false, "offset": 4, "tickSize": 7.5, "tickCount": 14}},
            "y": {"field": "y", "type": "quantitative", "scale": {"domain": [-20, 40], "nice": false, "zero": false},
              "axis": {"orient": "left", "title": null, "labels": false, "domain": false, "offset": 2, "tickSize": 7.5, "tickCount": 12}},
            "color": {"field": "s", "type": "nominal",
              "scale": {"domain": ["DJ05-0.5% DPC", "TG05-0.2% DPC-SDS (9:1)", "DJ07-0.2% LMPG"], "range": ["#000000", "#f01ccf", "#279a20"]},
              "legend": {"title": null, "orient": "none", "legendX": 145, "legendY": 12, "symbolType": "stroke", "symbolSize": 1089, "symbolStrokeWidth": 3, "labelFont": "Liberation Sans", "labelFontSize": 22, "labelColor": "black", "labelOffset": 12, "rowPadding": 18, "labelLimit": 0}},
            "strokeDash": {"field": "s", "type": "nominal",
              "scale": {"domain": ["DJ05-0.5% DPC", "TG05-0.2% DPC-SDS (9:1)", "DJ07-0.2% LMPG"], "range": [[1, 0], [7, 5], [1, 0]]},
              "legend": {"title": null, "orient": "none", "legendX": 145, "legendY": 12, "symbolType": "stroke", "symbolSize": 1089, "symbolStrokeWidth": 3, "labelFont": "Liberation Sans", "labelFontSize": 22, "labelColor": "black", "labelOffset": 12, "rowPadding": 18, "labelLimit": 0}}
          }
        },
        {
          "transform": [{"filter": "datum.s === 'DJ07-0.2% LMPG'"}],
          "mark": {"type": "line", "strokeWidth": 3},
          "encoding": {
            "x": {"field": "x", "type": "quantitative", "scale": {"domain": [190, 260], "nice": false, "zero": false},
              "axis": {"orient": "bottom", "title": null, "labels": false, "domain": false, "offset": 4, "tickSize": 5, "tickCount": 70}},
            "y": {"field": "y", "type": "quantitative", "scale": {"domain": [-20, 40], "nice": false, "zero": false},
              "axis": {"orient": "left", "title": null, "labels": false, "domain": false, "offset": 2, "tickSize": 5, "tickCount": 60}},
            "color": {"field": "s", "type": "nominal",
              "scale": {"domain": ["DJ05-0.5% DPC", "TG05-0.2% DPC-SDS (9:1)", "DJ07-0.2% LMPG"], "range": ["#000000", "#f01ccf", "#279a20"]},
              "legend": {"title": null, "orient": "none", "legendX": 145, "legendY": 12, "symbolType": "stroke", "symbolSize": 1089, "symbolStrokeWidth": 3, "labelFont": "Liberation Sans", "labelFontSize": 22, "labelColor": "black", "labelOffset": 12, "rowPadding": 18, "labelLimit": 0}},
            "strokeDash": {"field": "s", "type": "nominal",
              "scale": {"domain": ["DJ05-0.5% DPC", "TG05-0.2% DPC-SDS (9:1)", "DJ07-0.2% LMPG"], "range": [[1, 0], [7, 5], [1, 0]]},
              "legend": {"title": null, "orient": "none", "legendX": 145, "legendY": 12, "symbolType": "stroke", "symbolSize": 1089, "symbolStrokeWidth": 3, "labelFont": "Liberation Sans", "labelFontSize": 22, "labelColor": "black", "labelOffset": 12, "rowPadding": 18, "labelLimit": 0}}
          }
        }
      ]
    },
    {
      "width": 424,
      "height": 470,
      "title": {"text": "B", "anchor": "start", "frame": "group", "fontSize": 40, "font": "Liberation Sans", "fontWeight": "normal", "color": "black", "offset": -77, "baseline": "alphabetic", "dx": -129},
      "data": {"name": "B"},
      "resolve": {"axis": {"x": "independent", "y": "independent"}},
      "layer": [
        {
          "transform": [{"filter": "datum.s === 'DJ05 - 0.5% DPC-13% Helical'"}],
          "mark": {"type": "line", "strokeWidth": 3.5},
          "encoding": {
            "x": {"field": "x", "type": "quantitative", "scale": {"domain": [190, 260], "nice": false, "zero": false},
              "axis": {"orient": "bottom", "title": "wavelength (nm)", "titleFontSize": 21, "titlePadding": 28, "labelFontSize": 17, "labelPadding": 11, "offset": 4, "tickSize": 10, "tickCount": 7, "labelExpr": "toString(datum.value)"}},
            "y": {"field": "y", "type": "quantitative", "scale": {"domain": [-20000, 35000], "nice": false, "zero": false},
              "axis": {"orient": "left", "title": "MRE (deg.cm².dmol⁻¹)", "titleFontSize": 22, "titlePadding": 18, "titleY": 250, "labelFontSize": 17, "labelPadding": 10, "offset": 3, "tickSize": 10, "tickCount": 5, "labelExpr": "toString(datum.value)"}},
            "color": {"field": "s", "type": "nominal",
              "scale": {"domain": ["DJ05 - 0.5% DPC-13% Helical", "DJ07- 0.2% LMPG-25% Helical", "TG05 - 0.2% DPC-SDS (9:1)-37% Helical"], "range": ["#000000", "#279a20", "#f01ccf"]},
              "legend": {"title": null, "orient": "none", "legendX": 74, "legendY": 16, "symbolType": "stroke", "symbolSize": 576, "symbolStrokeWidth": 3, "labelFont": "Liberation Sans", "labelFontSize": 18, "labelColor": "black", "labelOffset": 3, "rowPadding": 14, "labelLimit": 0}},
            "strokeDash": {"field": "s", "type": "nominal",
              "scale": {"domain": ["DJ05 - 0.5% DPC-13% Helical", "DJ07- 0.2% LMPG-25% Helical", "TG05 - 0.2% DPC-SDS (9:1)-37% Helical"], "range": [[1, 0], [1, 0], [1.5, 1.5]]},
              "legend": {"title": null, "orient": "none", "legendX": 74, "legendY": 16, "symbolType": "stroke", "symbolSize": 576, "symbolStrokeWidth": 3, "labelFont": "Liberation Sans", "labelFontSize": 18, "labelColor": "black", "labelOffset": 3, "rowPadding": 14, "labelLimit": 0}}
          }
        },
        {
          "transform": [{"filter": "datum.s === 'DJ07- 0.2% LMPG-25% Helical'"}],
          "mark": {"type": "line", "strokeWidth": 3.5},
          "encoding": {
            "x": {"field": "x", "type": "quantitative", "scale": {"domain": [190, 260], "nice": false, "zero": false},
              "axis": {"orient": "bottom", "title": null, "labels": false, "domain": false, "offset": 4, "tickSize": 7.5, "tickCount": 14}},
            "y": {"field": "y", "type": "quantitative", "scale": {"domain": [-20000, 35000], "nice": false, "zero": false},
              "axis": {"orient": "left", "title": null, "labels": false, "domain": false, "offset": 3, "tickSize": 7.5, "tickCount": 11}},
            "color": {"field": "s", "type": "nominal",
              "scale": {"domain": ["DJ05 - 0.5% DPC-13% Helical", "DJ07- 0.2% LMPG-25% Helical", "TG05 - 0.2% DPC-SDS (9:1)-37% Helical"], "range": ["#000000", "#279a20", "#f01ccf"]},
              "legend": {"title": null, "orient": "none", "legendX": 74, "legendY": 16, "symbolType": "stroke", "symbolSize": 576, "symbolStrokeWidth": 3, "labelFont": "Liberation Sans", "labelFontSize": 18, "labelColor": "black", "labelOffset": 3, "rowPadding": 14, "labelLimit": 0}},
            "strokeDash": {"field": "s", "type": "nominal",
              "scale": {"domain": ["DJ05 - 0.5% DPC-13% Helical", "DJ07- 0.2% LMPG-25% Helical", "TG05 - 0.2% DPC-SDS (9:1)-37% Helical"], "range": [[1, 0], [1, 0], [1.5, 1.5]]},
              "legend": {"title": null, "orient": "none", "legendX": 74, "legendY": 16, "symbolType": "stroke", "symbolSize": 576, "symbolStrokeWidth": 3, "labelFont": "Liberation Sans", "labelFontSize": 18, "labelColor": "black", "labelOffset": 3, "rowPadding": 14, "labelLimit": 0}}
          }
        },
        {
          "transform": [{"filter": "datum.s === 'TG05 - 0.2% DPC-SDS (9:1)-37% Helical'"}],
          "mark": {"type": "line", "strokeWidth": 3.5},
          "encoding": {
            "x": {"field": "x", "type": "quantitative", "scale": {"domain": [190, 260], "nice": false, "zero": false},
              "axis": {"orient": "bottom", "title": null, "labels": false, "domain": false, "offset": 4, "tickSize": 5, "tickCount": 70}},
            "y": {"field": "y", "type": "quantitative", "scale": {"domain": [-20000, 35000], "nice": false, "zero": false},
              "axis": {"orient": "left", "title": null, "labels": false, "domain": false, "offset": 3, "tickSize": 5, "tickCount": 55}},
            "color": {"field": "s", "type": "nominal",
              "scale": {"domain": ["DJ05 - 0.5% DPC-13% Helical", "DJ07- 0.2% LMPG-25% Helical", "TG05 - 0.2% DPC-SDS (9:1)-37% Helical"], "range": ["#000000", "#279a20", "#f01ccf"]},
              "legend": {"title": null, "orient": "none", "legendX": 74, "legendY": 16, "symbolType": "stroke", "symbolSize": 576, "symbolStrokeWidth": 3, "labelFont": "Liberation Sans", "labelFontSize": 18, "labelColor": "black", "labelOffset": 3, "rowPadding": 14, "labelLimit": 0}},
            "strokeDash": {"field": "s", "type": "nominal",
              "scale": {"domain": ["DJ05 - 0.5% DPC-13% Helical", "DJ07- 0.2% LMPG-25% Helical", "TG05 - 0.2% DPC-SDS (9:1)-37% Helical"], "range": [[1, 0], [1, 0], [1.5, 1.5]]},
              "legend": {"title": null, "orient": "none", "legendX": 74, "legendY": 16, "symbolType": "stroke", "symbolSize": 576, "symbolStrokeWidth": 3, "labelFont": "Liberation Sans", "labelFontSize": 18, "labelColor": "black", "labelOffset": 3, "rowPadding": 14, "labelLimit": 0}}
          }
        }
      ]
    }
  ]
}
